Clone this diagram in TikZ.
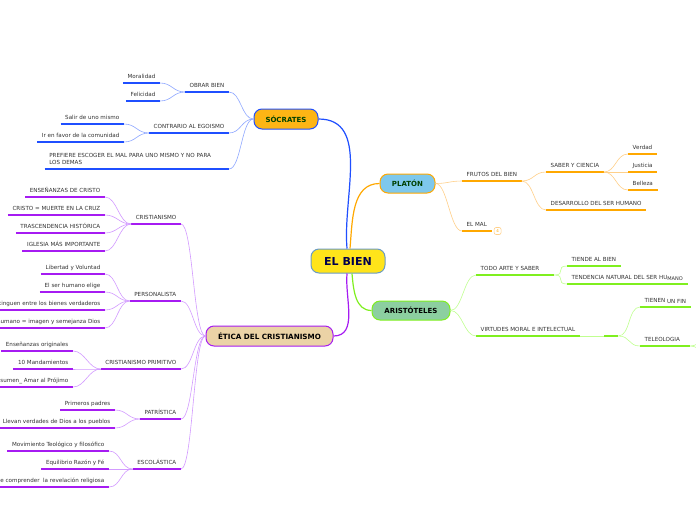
\documentclass[tikz,border=0pt]{standalone}
\usepackage{fontspec}
\setmainfont{DejaVu Sans}
\usepackage{xcolor}
\usetikzlibrary{positioning}

\definecolor{socblue}{HTML}{1F4FFF}
\definecolor{soclight}{HTML}{8FA8FF}
\definecolor{platorange}{HTML}{FFA800}
\definecolor{platlight}{HTML}{FFD08A}
\definecolor{arigreen}{HTML}{7FEF1F}
\definecolor{arilight}{HTML}{C0FF90}
\definecolor{etipurple}{HTML}{A61BF2}
\definecolor{etilight}{HTML}{D39BFF}
\definecolor{bienfill}{HTML}{FFE41A}
\definecolor{bienline}{HTML}{6A9BC4}
\definecolor{socfill}{HTML}{FDB515}
\definecolor{platfill}{HTML}{7EC8EC}
\definecolor{arifill}{HTML}{8CCFA0}
\definecolor{etifill}{HTML}{EBD3A6}
\definecolor{lbltext}{HTML}{333333}

\begin{document}
\begin{tikzpicture}[
    x=1pt, y=-1pt,
    topic/.style={rectangle, draw=#1, fill=white, rounded corners=8pt, line width=1pt, align=center, font=\fontsize{7}{8}\selectfont\bfseries},
    lbl/.style={inner xsep=4.5pt, inner ysep=2.5pt, text depth=1.5pt, text=lbltext, font=\fontsize{5.6}{7}\selectfont},
    lleft/.style={lbl, anchor=south east},
    lright/.style={lbl, anchor=south west},
    ul/.style={draw=#1, line width=1.4pt},
    link/.style={draw=#1, line width=0.6pt},
    mainlink/.style={draw=#1, line width=1.2pt},
    lft/.style={to path={.. controls +(-12,0) and +(12,0) .. (\tikztotarget)}},
    rgt/.style={to path={.. controls +(12,0) and +(-12,0) .. (\tikztotarget)}},
    badge/.style={rectangle, draw=platlight, fill=white, rounded corners=2pt, line width=0.6pt, minimum size=7pt, inner sep=0pt, text=platorange, font=\fontsize{4}{4}\selectfont}
]
\useasboundingbox[fill=white] (0,0) rectangle (696,520);

% Central topic and main branches
\node[topic=bienline, fill=bienfill, minimum width=74pt, minimum height=24pt, text=blue!30!black, font=\fontsize{11}{12}\selectfont\bfseries] (bien) at (348,261) {EL BIEN};
\node[topic=socblue, fill=socfill, minimum width=64pt, minimum height=20pt, text=green!25!black] (soc) at (286,119) {SÓCRATES};
\node[topic=platorange, fill=platfill, minimum width=55pt, minimum height=19pt, text=green!25!black] (plat) at (407.5,183.5) {PLATÓN};
\node[topic=arigreen, fill=arifill, minimum width=78pt, minimum height=19pt, text=black] (ari) at (411,310.5) {ARISTÓTELES};
\node[topic=etipurple, fill=etifill, minimum width=127pt, minimum height=20pt, text=black, font=\fontsize{7.2}{8}\selectfont\bfseries] (eti) at (269.5,336) {ÉTICA DEL CRISTIANISMO};

% Socrates
\node[lleft] (obrar) at (229,92) {OBRAR BIEN};
\node[lleft] (moral) at (160,83) {Moralidad};
\node[lleft] (felic) at (160,101) {Felicidad};
\node[lleft] (contra) at (229,133) {CONTRARIO AL EGOISMO};
\node[lleft] (salir) at (124,124) {Salir de uno mismo};
\node[lleft] (favor) at (124,142) {Ir en favor de la comunidad};
\node[lleft, text width=175pt, align=left, text depth=8.5pt] (prefiere) at (229,169) {PREFIERE ESCOGER EL MAL PARA UNO MISMO Y NO PARA\\LOS DEMAS};

% Platon
\node[lright] (frutos) at (462,181) {FRUTOS DEL BIEN};
\node[lright] (saber) at (546,172) {SABER Y CIENCIA};
\node[lright] (verdad) at (628,154) {Verdad};
\node[lright] (justi) at (628,172) {Justicia};
\node[lright] (belle) at (628,190) {Belleza};
\node[lright] (desar) at (546,210) {DESARROLLO DEL SER HUMANO};
\node[lright] (elmal) at (462,231) {EL MAL};
\node[badge] (cnt) at ([xshift=6pt]elmal.south east) {4};

% Aristoteles
\node[lright, text width=69pt, align=left] (todo) at (476,275) {TODO ARTE Y SABER};
\node[lright] (tiende) at (567,266) {TIENDE AL BIEN};
\node[lright] (tenden) at (567,284) {TENDENCIA NATURAL DEL SER HU\raisebox{-1pt}{\scalebox{0.9}{MANO}}};
\node[lright] (virt) at (476,336) {VIRTUDES MORAL E INTELECTUAL};
\node[lright, minimum width=14pt, inner xsep=0pt] (vacio) at (604,336) {};
\node[lright] (tienen) at (640,307) {TIENEN \raisebox{-1pt}{UN FIN}};
\node[lright, text width=41pt, align=left] (teleo) at (640,346) {TELEOLOGIA};
\coordinate (tel1) at (716,330);
\coordinate (tel2) at (716,362);

% Etica del cristianismo
\node[lleft] (cris) at (181,224) {CRISTIANISMO};
\node[lleft] (ens) at (105,197) {ENSEÑANZAS DE CRISTO};
\node[lleft] (muerte) at (105,215) {CRISTO = MUERTE EN LA CRUZ};
\node[lleft] (trasc) at (105,233) {TRASCENDENCIA HISTÓRICA};
\node[lleft] (igle) at (105,251) {IGLESIA MÁS IMPORTANTE};
\node[lleft] (pers) at (181,301) {PERSONALISTA};
\node[lleft] (liber) at (105,274) {Libertad y Voluntad};
\node[lleft] (elige) at (105,292) {El ser humano elige};
\node[lleft] (disti) at (105,310) {Distinguen entre los bienes verdaderos};
\node[lleft] (imagen) at (105,328) {Ser humano = imagen y semejanza Dios};
\node[lleft] (prim) at (181,369) {CRISTIANISMO PRIMITIVO};
\node[lleft] (ensor) at (73,351) {Enseñanzas originales};
\node[lleft] (mand) at (73,369) {10 Mandamientos};
\node[lleft] (resum) at (73,387) {Resumen\_ Amar al Prójimo};
\node[lleft] (patr) at (181,419) {PATRÍSTICA};
\node[lleft] (padres) at (115,410) {Primeros padres};
\node[lleft] (llevan) at (115,428) {Llevan verdades de Dios a los pueblos};
\node[lleft] (esco) at (181,469) {ESCOLÁSTICA};
\node[lleft] (movim) at (109,451) {Movimiento Teológico y filosófico};
\node[lleft] (equil) at (109,469) {Equilibrio Razón y Fé};
\node[lleft] (compr) at (109,487) {Tratar de comprender\ \ la revelación religiosa};

% ---- UNDERLINES ----
\foreach \n in {obrar, moral, felic, contra, salir, favor, prefiere}
    \draw[ul=socblue] (\n.south west) -- (\n.south east);
\foreach \n in {frutos, saber, verdad, justi, belle, desar, elmal}
    \draw[ul=platorange] (\n.south west) -- (\n.south east);
\foreach \n in {todo, tiende, tenden, virt, vacio, tienen, teleo}
    \draw[ul=arigreen] (\n.south west) -- (\n.south east);
\foreach \n in {cris, ens, muerte, trasc, igle, pers, liber, elige, disti, imagen, prim, ensor, mand, resum, patr, padres, llevan, esco, movim, equil, compr}
    \draw[ul=etipurple] (\n.south west) -- (\n.south east);

% ---- CONNECTORS ----
% Central topic -> main branches
\draw[mainlink=socblue] ([xshift=-1pt]bien.north) to[out=95, in=0] (soc.east);
\draw[mainlink=platorange] ([xshift=2pt]bien.north) to[out=85, in=180] (plat.west);
\draw[mainlink=arigreen] ([xshift=4pt]bien.south) to[out=-85, in=180] (ari.west);
\draw[mainlink=etipurple] ([xshift=-1pt]bien.south) to[out=-95, in=0] (eti.east);

% Socrates
\foreach \n in {obrar, contra, prefiere}
    \draw[link=soclight] (soc.west) to[lft] (\n.south east);
\foreach \n in {moral, felic}
    \draw[link=soclight] (obrar.south west) to[lft] (\n.south east);
\foreach \n in {salir, favor}
    \draw[link=soclight] (contra.south west) to[lft] (\n.south east);

% Platon
\foreach \n in {frutos, elmal}
    \draw[link=platlight] (plat.east) to[rgt] (\n.south west);
\foreach \n in {saber, desar}
    \draw[link=platlight] (frutos.south east) to[rgt] (\n.south west);
\foreach \n in {verdad, justi, belle}
    \draw[link=platlight] (saber.south east) to[rgt] (\n.south west);

% Aristoteles
\foreach \n in {todo, virt}
    \draw[link=arilight] (ari.east) to[rgt] (\n.south west);
\foreach \n in {tiende, tenden}
    \draw[link=arilight] (todo.south east) to[rgt] (\n.south west);
\draw[link=arilight] (virt.south east) -- (vacio.south west);
\foreach \n in {tienen, teleo}
    \draw[link=arilight] (vacio.south east) to[rgt] (\n.south west);
\foreach \n in {tel1, tel2}
    \draw[link=arilight] (teleo.south east) to[rgt] (\n);

% Etica del cristianismo
\foreach \n in {cris, pers, prim, patr, esco}
    \draw[link=etilight] (eti.west) to[lft] (\n.south east);
\foreach \n in {ens, muerte, trasc, igle}
    \draw[link=etilight] (cris.south west) to[lft] (\n.south east);
\foreach \n in {liber, elige, disti, imagen}
    \draw[link=etilight] (pers.south west) to[lft] (\n.south east);
\foreach \n in {ensor, mand, resum}
    \draw[link=etilight] (prim.south west) to[lft] (\n.south east);
\foreach \n in {padres, llevan}
    \draw[link=etilight] (patr.south west) to[lft] (\n.south east);
\foreach \n in {movim, equil, compr}
    \draw[link=etilight] (esco.south west) to[lft] (\n.south east);

\end{tikzpicture}
\end{document}
